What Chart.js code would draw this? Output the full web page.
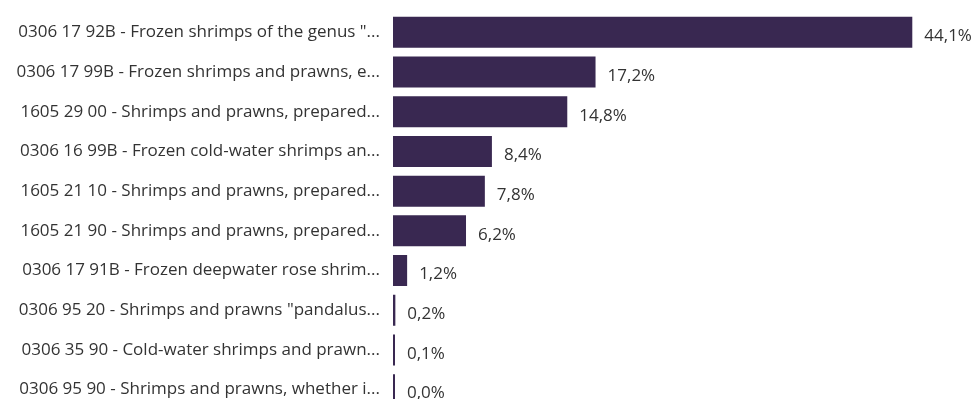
<!DOCTYPE html>
<html>
<head>
<meta charset="utf-8">
<script src="https://cdn.jsdelivr.net/npm/chart.js@4/dist/chart.umd.min.js"></script>
<style>
  html, body { margin: 0; padding: 0; background: #fff; overflow: hidden; }
  canvas { display: block; }
</style>
</head>
<body>
<canvas id="bar" width="976" height="420"></canvas>
<script>
const products = [
  '0306 17 92B - Frozen shrimps of the genus "...',
  '0306 17 99B - Frozen shrimps and prawns, e...',
  '1605 29 00 - Shrimps and prawns, prepared...',
  '0306 16 99B - Frozen cold-water shrimps an...',
  '1605 21 10 - Shrimps and prawns, prepared...',
  '1605 21 90 - Shrimps and prawns, prepared...',
  '0306 17 91B - Frozen deepwater rose shrim...',
  '0306 95 20 - Shrimps and prawns "pandalus...',
  '0306 35 90 - Cold-water shrimps and prawn...',
  '0306 95 90 - Shrimps and prawns, whether i...'
]
const shares = [44.1, 17.2, 14.8, 8.4, 7.8, 6.2, 1.2, 0.2, 0.1, 0.0]

const FONT = '"Open Sans", Arial, sans-serif'
const TEXT = '#333333'
const SIZE = 17

// percentage written just past the end of each bar
const valueLabels = {
  id: 'valueLabels',
  afterDatasetsDraw (chart) {
    const { ctx } = chart
    const meta = chart.getDatasetMeta(0)
    ctx.save()
    ctx.font = SIZE + 'px ' + FONT
    ctx.fillStyle = TEXT
    ctx.textBaseline = 'middle'
    ctx.textAlign = 'left'
    meta.data.forEach((bar, i) => {
      const txt = shares[i].toFixed(1).replace('.', ',') + '%'
      ctx.fillText(txt, bar.x + 12, bar.y + 4)
    })
    ctx.restore()
  }
}

new Chart(document.getElementById('bar'), {
  type: 'bar',
  data: {
    labels: products,
    datasets: [
      {
        data: shares,
        backgroundColor: '#392851',
        borderWidth: 0,
        minBarLength: 2,
        categoryPercentage: 1,
        barPercentage: 0.78
      }
    ]
  },
  options: {
    indexAxis: 'y',
    responsive: false,
    animation: false,
    layout: { padding: { top: 12.5, bottom: 10.5, left: 0, right: 6 } },
    plugins: {
      legend: { display: false },
      tooltip: { enabled: false }
    },
    scales: {
      x: {
        display: false,
        min: 0,
        max: 49
      },
      y: {
        grid: { display: false, drawTicks: false },
        border: { display: false },
        ticks: {
          color: TEXT,
          font: { family: FONT, size: SIZE },
          padding: 13,
          autoSkip: false
        },
        afterFit (scale) {
          scale.width = 393
          scale.paddingTop = 0
          scale.paddingBottom = 0
        }
      }
    }
  },
  plugins: [valueLabels]
})
</script>
</body>
</html>
